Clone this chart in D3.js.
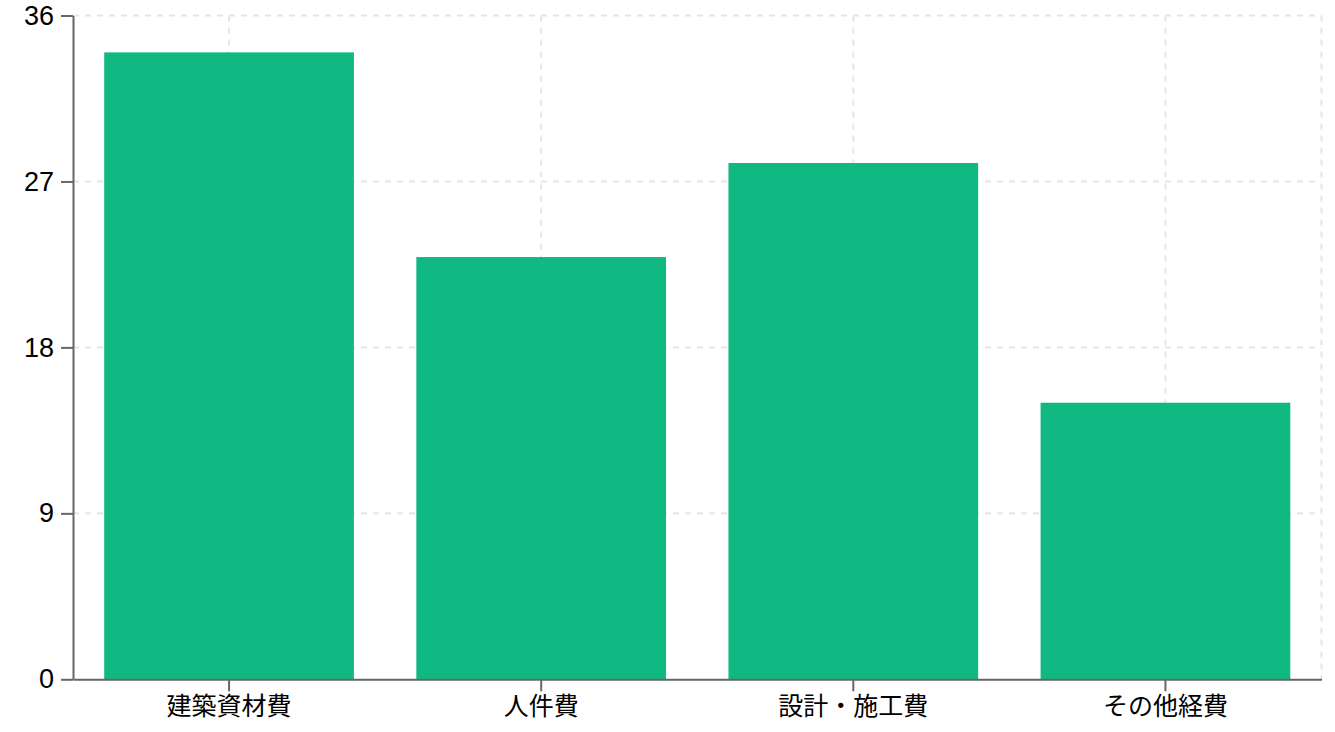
<!DOCTYPE html>
<html>
<head>
  <meta charset="UTF-8">
  <title>費用内訳</title>
  <script src="https://d3js.org/d3.v7.min.js"></script>
  <style>
    body {
      margin: 0;
      background: #fff;
      font-family: "Liberation Sans", "Noto Sans CJK JP", sans-serif;
    }
    .grid line {
      stroke: #e6e6e6;
      stroke-width: 2;
      stroke-dasharray: 6 6;
    }
    .axis path, .axis line {
      stroke: #666;
      stroke-width: 2;
    }
    .axis text {
      fill: #000;
      font-size: 25px;
      font-family: "Liberation Sans", "Noto Sans CJK JP", sans-serif;
    }
    .y-axis text {
      font-size: 27px;
    }
    .bar {
      fill: #10b981;
    }
  </style>
</head>
<body>
  <div id="chart"></div>
  <script>
    const categories = ["建築資材費", "人件費", "設計・施工費", "その他経費"];
    const values = [34, 22.9, 28, 15];
    const yTicks = [0, 9, 18, 27, 36];

    const totalWidth = 1335;
    const totalHeight = 732;
    const margin = { top: 15.5, right: 13.5, bottom: 52.7, left: 73 };
    const width = totalWidth - margin.left - margin.right;
    const height = totalHeight - margin.top - margin.bottom;

    const data = categories.map((c, i) => ({ name: c, value: values[i] }));

    const xScale = d3.scaleBand()
      .domain(categories)
      .range([0, width])
      .paddingInner(0.2)
      .paddingOuter(0.1);

    const yScale = d3.scaleLinear()
      .domain([0, 36])
      .range([height, 0]);

    const svg = d3.select("#chart")
      .append("svg")
      .attr("width", totalWidth)
      .attr("height", totalHeight)
      .append("g")
      .attr("transform", `translate(${margin.left}, ${margin.top})`);

    // grid
    const grid = svg.append("g").attr("class", "grid");
    grid.selectAll(".h")
      .data(yTicks.filter(t => t !== 0))
      .enter()
      .append("line")
      .attr("x1", 0)
      .attr("x2", width)
      .attr("y1", d => yScale(d))
      .attr("y2", d => yScale(d));
    const vx = categories.map(c => xScale(c) + xScale.bandwidth() / 2).concat([width]);
    grid.selectAll(".v")
      .data(vx)
      .enter()
      .append("line")
      .attr("x1", d => d)
      .attr("x2", d => d)
      .attr("y1", 0)
      .attr("y2", height);

    // bars
    svg.selectAll(".bar")
      .data(data)
      .enter()
      .append("rect")
      .attr("class", "bar")
      .attr("x", d => xScale(d.name))
      .attr("y", d => yScale(d.value))
      .attr("width", xScale.bandwidth())
      .attr("height", d => yScale(0) - yScale(d.value));

    // axes
    const yAxis = d3.axisLeft(yScale)
      .tickValues(yTicks)
      .tickSize(12)
      .tickPadding(7)
      .tickSizeOuter(0);
    svg.append("g")
      .attr("class", "axis y-axis")
      .call(yAxis);

    const xAxis = d3.axisBottom(xScale)
      .tickSize(12)
      .tickPadding(6)
      .tickSizeOuter(0);
    svg.append("g")
      .attr("class", "axis x-axis")
      .attr("transform", `translate(0, ${height})`)
      .call(xAxis);
  </script>
</body>
</html>
